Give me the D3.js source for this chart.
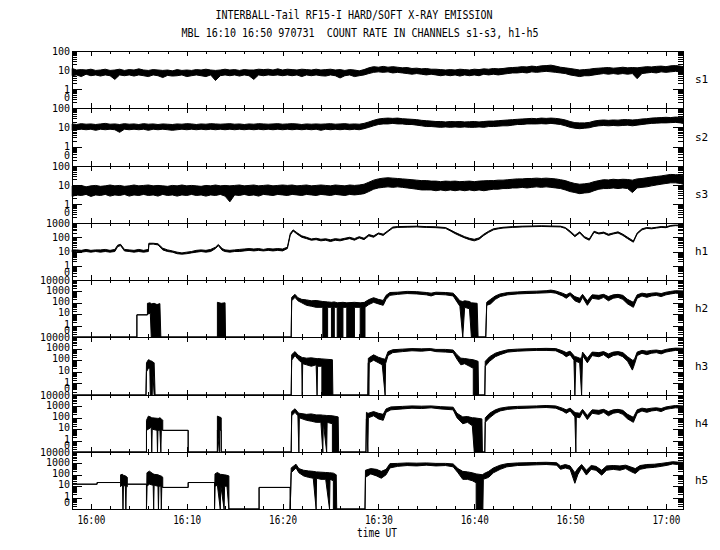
<!DOCTYPE html>
<meta charset="utf-8">
<style>
body { margin: 0; background: #fff; }
text { font-family: "DejaVu Sans Mono", monospace; fill: #000; }
.band { fill: #000; stroke: #000; stroke-width: 1px; }
.axis path, .axis line { stroke: #000; shape-rendering: crispEdges; }
</style>
<body>
<script src="https://d3js.org/d3.v7.min.js"></script>
<script>

// time in minutes after 16:00 UT; each row is [time, low, high] count rate
// (low == high for a plain line, low 0 = drop-out to the bottom)
var s1 = [[-1.95,5,12],[-1.5,5.5,10],[-1,4.5,10.5],[-0.5,6,10],[0,5,11],[0.5,5.5,9.5],[1,4.8,10],[1.5,5.5,11],[2,5,9.5],[2.5,3.2,10],[3,5.5,11],[3.5,5,9.5],[4,5.5,10.5],[4.5,4.8,10],[5,5.5,11.5],[5.5,5,10],[6,4.5,9.5],[6.5,5.5,10.5],[7,5,10],[7.5,4,9.5],[8,5.2,10],[8.5,4.8,9],[9,5,10.5],[9.5,5.5,9.5],[10,4.5,10],[10.5,5,9.5],[11,5.5,10.5],[11.5,5,10],[12,4.5,11],[12.5,5.5,10],[13,2.8,9.5],[13.5,5,10],[14,5.5,11],[14.5,5,10],[15,5.5,10.5],[15.5,4.8,9.5],[16,5.5,10.5],[16.5,5,10],[17,3.2,10],[17.5,5.5,11],[18,5,10.5],[18.5,5.5,11],[19,5.2,10],[19.5,5.5,11.5],[20,5,10],[20.5,5.5,11],[21,5,10.5],[21.5,5.5,10],[22,4.5,11],[22.5,5.5,10.5],[23,5,10],[23.5,5.5,11],[24,5,10],[24.5,4.8,10.5],[25,5.5,11],[25.5,5,10],[26,3.8,10.5],[26.5,5,9.5],[27,5.5,10.5],[27.5,4.5,10],[28,5,9],[28.5,5.5,10.5],[29,6.5,13],[29.5,7.5,15],[30,8,14],[30.5,7.5,15.5],[31,8,14],[31.5,7,15],[32,7.5,14],[32.5,7,13],[33,6.5,13.5],[33.5,6,12],[34,6.5,12.5],[34.5,6,11.5],[35,5.5,12],[35.5,6,11],[36,5.5,11],[36.5,5,10.5],[37,5.5,10],[37.5,5,10.5],[38,5.5,10],[38.5,4.8,11],[39,5.5,10.5],[39.5,5,10],[40,5.5,11],[40.5,5,10.5],[41,6,11.5],[41.5,5.5,11],[42,6,12],[42.5,5.5,11.5],[43,6,12],[43.5,6.5,13],[44,7,13.5],[44.5,7,14],[45,7.5,15],[45.5,7,14.5],[46,8,16],[46.5,7.5,15],[47,8,16.5],[47.5,8.5,17],[48,8,18],[48.5,7.5,16],[49,7,14],[49.5,6.5,13],[50,5.5,12],[50.5,5,11],[51,4.5,10],[51.5,5,10.5],[52,5,11],[52.5,5.5,12],[53,6,12.5],[53.5,6.5,13],[54,6,13.5],[54.5,6.5,12.5],[55,6,13],[55.5,6.5,14],[56,6,13],[56.5,6.5,13.5],[57,3.5,13],[57.5,6.5,14],[58,7,15],[58.5,7.5,14.5],[59,7,15.5],[59.5,8,16],[60,7.5,15],[60.5,8,16.5],[61,8.5,17],[61.5,8,16],[61.8,7,15]];

var s2 = [[-1.95,7,15],[-1.5,7.5,14],[-1,8,15.5],[-0.5,7.5,14.5],[0,8,15],[0.5,7,14],[1,8,15],[1.5,7.5,16],[2,8,14.5],[2.5,7.5,15],[3,5.5,14],[3.5,8,15.5],[4,7.5,14.5],[4.5,8,15],[5,7.5,14],[5.5,8,15.5],[6,7,14.5],[6.5,8,15],[7,7.5,14],[7.5,8,15],[8,7.5,14.5],[8.5,7,14],[9,7.5,15],[9.5,8,14.5],[10,7.5,15.5],[10.5,8,15],[11,7.5,14],[11.5,8,15],[12,7.5,14.5],[12.5,8,15.5],[13,7.5,15],[13.5,8,14.5],[14,7.5,15],[14.5,8,15.5],[15,7.5,14.5],[15.5,8,15],[16,7.5,14],[16.5,8,15],[17,7.5,14.5],[17.5,8,15.5],[18,7.5,15],[18.5,8,14.5],[19,7.5,15],[19.5,8,15.5],[20,7.5,14.5],[20.5,8,15],[21,7.5,15.5],[21.5,8,15],[22,7.5,14],[22.5,8,15],[23,7.5,14.5],[23.5,8,15],[24,7,14.5],[24.5,8,15],[25,7.5,15.5],[25.5,8,14.5],[26,7.5,15],[26.5,8,15.5],[27,7.5,14.5],[27.5,8,15],[28,7.5,14.5],[28.5,8.5,16],[29,10,19],[29.5,12,23],[30,14,27],[30.5,15,29],[31,15,30],[31.5,16,29],[32,15,30],[32.5,15,28],[33,14,27],[33.5,14,26],[34,13,25],[34.5,12,23],[35,11,22],[35.5,11,21],[36,10.5,20],[36.5,10,20],[37,10.5,19],[37.5,10,20],[38,10.5,19.5],[38.5,10,20],[39,10.5,19],[39.5,10,19.5],[40,10,20],[40.5,10.5,19],[41,10,20],[41.5,11,21],[42,11,21],[42.5,11.5,22],[43,12,23],[43.5,12,24],[44,13,25],[44.5,14,26],[45,14,27],[45.5,15,28],[46,15,29],[46.5,15,28],[47,15.5,30],[47.5,15,29],[48,16,30],[48.5,15,29],[49,14,27],[49.5,12,24],[50,10,20],[50.5,9,17.5],[51,8.5,17],[51.5,9,17],[52,9.5,18],[52.5,11,21],[53,12,23],[53.5,12.5,24],[54,12,23],[54.5,12.5,24],[55,12,23.5],[55.5,12.5,25],[56,13,25],[56.5,12,24],[57,13,25],[57.5,14,27],[58,15,28],[58.5,16,30],[59,16.5,31],[59.5,17,32],[60,17,33],[60.5,17.5,32],[61,18,34],[61.5,17,33],[61.8,16,31]];

var s3 = [[-1.95,2.5,9],[-1.5,3,8.5],[-1,2.8,9.5],[-0.5,3.2,8],[0,2.5,9],[0.5,3,9.5],[1,2.8,8.5],[1.5,3.2,9],[2,2.6,10],[2.5,3,9],[3,2.8,9.5],[3.5,3.2,8.5],[4,2.6,9],[4.5,3,10],[5,2.8,9],[5.5,3.2,9.5],[6,2.8,10],[6.5,3,9],[7,2.6,9.5],[7.5,3.2,9],[8,2.8,8.5],[8.5,3,9.5],[9,2.6,9],[9.5,3,10],[10,2.8,9],[10.5,3.2,9.5],[11,2.8,9],[11.5,3,8.5],[12,2.6,9.5],[12.5,3,9],[13,2.8,10],[13.5,3.2,9],[14,2.6,9.5],[14.5,1.3,9],[15,3,9.5],[15.5,2.8,10],[16,3.2,9],[16.5,2.8,9.5],[17,3,10],[17.5,2.6,9],[18,3.2,9.5],[18.5,3,10],[19,2.8,9],[19.5,3.2,9.5],[20,3,10],[20.5,2.8,9.5],[21,3.2,10],[21.5,3,9],[22,2.8,9.5],[22.5,3.2,10],[23,3,9],[23.5,2.8,9.5],[24,3.2,10],[24.5,3,9.5],[25,2.8,9],[25.5,3.2,10],[26,3,9.5],[26.5,2.8,9],[27,3.2,10],[27.5,3,9.5],[28,3.2,10],[28.5,3.5,11],[29,4.5,14],[29.5,6,18],[30,7,21],[30.5,7.5,23],[31,8,24],[31.5,7.5,23],[32,8,22],[32.5,7.5,21],[33,7,20],[33.5,6.5,19],[34,6,18],[34.5,5.5,17],[35,5.5,17],[35.5,5.5,16],[36,5,16],[36.5,5.5,15],[37,5,16],[37.5,5.5,15.5],[38,5,16],[38.5,5.5,15],[39,5,15.5],[39.5,5.5,16],[40,5,15],[40.5,5.5,16],[41,5,16.5],[41.5,5.5,17],[42,6,17],[42.5,6,18],[43,6.5,18],[43.5,6.5,19],[44,7,20],[44.5,7,21],[45,7.5,21],[45.5,7,22],[46,7.5,22],[46.5,8,23],[47,7.5,22],[47.5,8,23],[48,7.5,22],[48.5,7,21],[49,6.5,19],[49.5,5.5,17],[50,4.5,14],[50.5,4,12],[51,3.5,11],[51.5,3.8,11.5],[52,4,12.5],[52.5,5,15],[53,6,17],[53.5,6.5,19],[54,6.5,18.5],[54.5,7,20],[55,6.5,19],[55.5,7,20],[56,6.5,19.5],[56.5,4,18],[57,7,21],[57.5,7.5,22],[58,8,24],[58.5,9,26],[59,10,28],[59.5,11,30],[60,12,33],[60.5,13,36],[61,13,35],[61.5,12,34],[61.8,11,32]];

var h1 = [[-1.95,9,13],[-1.5,10,13],[-1,9,12],[-0.5,10,14],[0,9,12],[0.5,10,13],[1,9,13],[1.5,10,14],[2,9,12],[2.5,10,14],[2.8,22,28],[3.1,26,32],[3.5,11,14],[4,10,13],[4.5,9,12],[5,10,14],[5.5,9,12],[6,10,14],[6.05,32,38],[6.5,33,38],[7,29,35],[7.5,13,17],[8,10,13],[8.5,9,11],[9,7,9],[9.5,6.5,8],[10,7,9],[10.5,8,10],[11,9,12],[11.5,10,13],[12,9,12],[12.5,10,14],[13,16,20],[13.3,26,31],[13.7,12,16],[14,10,13],[14.5,9,12],[15,10,13],[15.5,10,14],[16,11,15],[16.5,12,16],[17,11,15],[17.5,12,16],[18,11,14],[18.5,12,16],[19,11,15],[19.5,12,16],[20,11,15],[20.5,16,20],[20.8,140,180],[21.1,280,330],[21.5,170,210],[22,100,125],[22.5,80,100],[23,62,76],[23.5,68,85],[24,56,72],[24.5,62,78],[25,50,66],[25.5,62,80],[26,56,72],[26.5,68,85],[27,80,100],[27.5,62,80],[28,90,110],[28.5,68,85],[29,125,155],[29.5,100,125],[30,170,200],[30.5,135,165],[31,250,290],[31.5,440,520],[32,490,560],[33,510,580],[34,530,600],[35,490,560],[36,470,540],[37,420,480],[37.5,280,330],[38,180,220],[38.5,125,155],[39,90,110],[39.5,68,85],[40,56,72],[40.5,72,90],[41,135,165],[41.5,220,265],[42,330,390],[42.5,390,450],[43,440,500],[44,490,560],[45,530,600],[46,550,620],[47,570,640],[48,550,620],[49,530,600],[49.5,420,480],[50,220,270],[50.5,110,135],[51,200,240],[51.5,90,110],[52,62,76],[52.5,220,265],[53,170,200],[53.5,190,230],[54,135,165],[54.5,170,200],[55,200,240],[55.5,135,165],[56,80,100],[56.6,45,55],[57,170,200],[57.5,330,390],[58,420,480],[58.5,390,450],[59,440,500],[59.5,490,560],[60,470,540],[60.5,600,670],[61,650,720],[61.5,630,700],[61.8,610,680]];

var h2 = [[-1.95,0,0],[4.8,0,0],[4.8,8.8,8.8],[5.9,8.8,8.8],[5.9,10,90],[6.2,12,100],[6.3,0,80],[6.6,0,90],[6.9,0,70],[7.2,0,85],[7.3,0,0],[13.2,0,0],[13.2,0,110],[13.6,0,90],[14,0,100],[14.05,0,0],[20.9,0,0],[20.95,150,300],[21.3,300,550],[21.6,150,280],[22,100,200],[22.5,60,180],[23,50,150],[23.5,40,160],[24.2,40,130],[24.2,0,130],[24.7,0,120],[24.7,40,120],[25.1,40,110],[25.1,0,110],[25.4,0,120],[25.4,40,120],[25.7,40,100],[25.7,0,100],[26.3,0,110],[26.3,40,110],[26.7,40,100],[26.7,0,100],[27.5,0,110],[27.5,40,110],[28.1,40,100],[28.1,0,100],[28.6,0,110],[28.6,40,120],[29,70,190],[29.5,110,280],[30,80,200],[30.5,60,160],[30.8,200,450],[31.2,450,800],[32,550,850],[33,650,1000],[34,600,950],[35,500,800],[35.5,400,700],[36,550,850],[37,500,800],[37.8,400,700],[38.2,120,300],[38.5,50,150],[38.8,0,130],[39,40,150],[39.5,30,130],[39.7,0,100],[40.3,0,90],[40.4,0,0],[41.2,0,0],[41.3,60,110],[41.7,80,200],[42.2,200,400],[42.7,350,600],[43.5,500,800],[44.5,600,900],[45.5,650,1000],[46.5,700,1050],[47.5,750,1150],[48,800,1300],[48.5,700,1100],[49.2,400,700],[49.6,250,500],[50,450,750],[50.5,150,350],[51,100,250],[51.3,300,550],[51.8,60,150],[52.3,250,500],[53,200,450],[53.5,300,550],[54,150,350],[54.5,250,500],[55,300,550],[55.5,200,450],[56,80,200],[56.6,40,110],[57,250,500],[57.5,400,700],[58,300,600],[58.5,400,700],[59,450,750],[59.5,350,650],[60,500,850],[60.5,600,1000],[61,700,1150],[61.8,650,1100]];

var h3 = [[-1.95,0,0],[5.75,0,0],[5.8,10,60],[6.0,20,110],[6.15,20,100],[6.2,0,90],[6.4,0,80],[6.45,15,70],[6.6,0,60],[6.7,0,0],[20.9,0,0],[20.95,100,300],[21.3,250,550],[21.6,120,280],[22,60,180],[22.05,0,170],[22.1,50,170],[22.5,40,150],[23,30,160],[23.5,40,140],[23.6,0,140],[23.65,30,140],[24.1,30,130],[24.1,0,130],[25.2,0,110],[25.25,0,0],[28.9,0,0],[28.95,60,150],[29,0,150],[29.05,60,170],[29.5,100,290],[30,60,180],[30.4,40,140],[30.7,0,120],[30.75,50,150],[31,250,550],[31.5,450,800],[32.5,550,900],[33.5,650,1000],[34.5,600,950],[35.4,700,1000],[36,550,850],[37,500,850],[37.8,450,750],[38.2,120,300],[38.6,40,150],[39,50,140],[39.5,30,120],[39.9,20,110],[39.9,0,110],[40.4,0,80],[40.45,0,0],[41.1,0,0],[41.15,30,80],[41.6,80,200],[42.2,200,400],[42.7,300,550],[43.5,500,800],[44.5,600,900],[45.5,650,950],[46.5,700,1000],[47.5,700,1050],[48.5,650,1000],[49.2,350,650],[49.6,200,450],[50,300,600],[50.4,100,250],[50.5,0,200],[50.6,80,200],[51,60,150],[51.2,0,150],[51.3,250,500],[51.8,60,150],[52.3,250,500],[53,200,450],[53.5,300,550],[54,150,350],[54.5,250,500],[55,300,550],[55.5,200,450],[56,80,200],[56.5,14,100],[56.7,40,110],[57,250,500],[57.5,400,700],[58,300,600],[58.5,400,700],[59,450,750],[59.5,350,650],[60,500,850],[60.5,600,1000],[61,700,1100],[61.8,650,1050]];

var h4 = [[-1.95,0,0],[5.8,0,0],[5.8,8,60],[6.0,10,140],[6.3,15,110],[6.35,0,100],[6.4,10,100],[6.9,8,90],[6.95,0,90],[7.0,8,85],[7.2,8,100],[7.3,0,90],[7.35,8,80],[7.5,8,60],[7.5,7.9,7.9],[10.15,7.9,7.9],[10.15,0,0],[13.2,0,0],[13.2,8,140],[13.4,0,120],[13.45,8,120],[13.6,8,100],[13.6,0,0],[20.9,0,0],[20.95,150,350],[21.3,300,620],[21.6,150,300],[21.7,0,250],[21.75,100,250],[22.5,60,200],[23,50,220],[23.5,40,180],[24,40,180],[24.2,0,170],[24.25,40,170],[24.6,0,160],[24.65,40,160],[25.2,30,150],[25.2,0,150],[25.8,0,120],[25.85,0,0],[28.7,0,0],[28.75,80,300],[28.9,0,250],[28.95,100,250],[29.5,150,350],[30,80,250],[30.5,60,200],[30.8,300,600],[31.3,500,900],[32.5,600,1000],[33.5,700,1100],[34.5,650,1050],[35.5,750,1100],[36.5,600,950],[37.8,500,850],[38.2,100,250],[38.8,30,120],[39.3,40,130],[39.8,20,100],[40,0,100],[40.8,0,80],[40.85,0,0],[41.1,0,0],[41.15,40,100],[41.6,100,250],[42.2,250,500],[42.7,400,700],[43.5,550,900],[44.5,650,1000],[45.5,700,1050],[46.5,750,1100],[47.5,800,1200],[48.5,700,1100],[49.2,400,700],[49.6,250,500],[50,400,700],[50.5,120,300],[50.6,0,280],[50.65,120,280],[51,100,250],[51.3,300,550],[51.8,70,160],[52.3,250,500],[53,200,450],[53.5,300,550],[54,150,350],[54.5,250,500],[55,300,550],[55.5,200,450],[56,80,200],[56.6,40,110],[57,250,500],[57.5,400,700],[58,300,600],[58.5,400,700],[59,450,750],[59.5,350,650],[60,550,900],[60.5,650,1050],[61,750,1200],[61.8,700,1100]];

var h5 = [[-1.95,15,15],[0.65,15,15],[0.65,21,21],[3.1,21,21],[3.1,9,100],[3.3,15,110],[3.35,0,100],[3.4,12,90],[3.6,10,80],[3.65,0,80],[3.7,10,70],[3.8,9,60],[3.8,15,15],[5.8,15,15],[5.8,0,0],[5.85,10,150],[6.1,15,210],[6.5,12,120],[6.55,0,120],[6.6,12,110],[7.0,10,100],[7.05,0,100],[7.1,10,90],[7.3,10,80],[7.35,0,80],[7.4,9,70],[7.5,8,60],[7.5,7.8,7.8],[10.15,7.8,7.8],[10.15,21,21],[12.9,21,21],[12.9,0,0],[12.95,10,120],[13.2,12,160],[13.5,0,110],[13.55,12,110],[13.9,0,100],[13.95,10,100],[14.2,10,90],[14.4,0,80],[14.4,0,0],[17.55,0,0],[17.55,7.8,7.8],[20.8,7.8,7.8],[20.8,0,0],[20.9,150,400],[21.4,400,850],[21.7,150,350],[22.2,80,250],[22.7,60,220],[23.2,50,200],[23.5,0,180],[23.55,50,180],[24,40,170],[24.5,40,160],[24.9,0,150],[24.95,40,150],[25.3,30,140],[25.3,0,140],[25.6,0,100],[25.65,0,0],[28.6,0,0],[28.65,60,250],[29.2,120,350],[29.8,80,300],[30.3,50,200],[30.8,100,300],[31.2,400,950],[32,550,1000],[33,650,1100],[34,600,1050],[35,700,1100],[36,600,1000],[37,650,1000],[37.8,500,900],[38.3,150,350],[38.8,40,200],[39.3,40,180],[39.8,30,150],[40.2,20,120],[40.2,0,120],[40.9,0,100],[40.95,40,120],[41.5,60,200],[42,150,400],[42.7,300,700],[43.4,500,950],[44.5,650,1100],[45.5,700,1150],[46.5,750,1200],[47.5,800,1250],[48.6,700,1150],[49,300,600],[49.5,400,800],[50,300,600],[50.5,18,150],[50.8,100,350],[51.2,400,800],[51.7,95,250],[52.2,300,650],[52.7,250,550],[53.3,93,250],[53.8,250,600],[54.5,300,650],[55.2,250,600],[55.8,350,700],[56.3,200,500],[56.8,130,350],[57.3,300,650],[58,400,800],[58.8,450,850],[59.5,550,1000],[60.2,700,1200],[60.7,900,1400],[61.2,800,1300],[61.8,750,1250]];

var channels = ["s1", "s2", "s3", "h1", "h2", "h3", "h4", "h5"];
var channelData = [s1, s2, s3, h1, h2, h3, h4, h5];
var topValues = [100, 100, 100, 1000, 10000, 10000, 10000, 10000];

var timeTicks = [0, 10, 20, 30, 40, 50, 60];
var timeLabels = ["16:00", "16:10", "16:20", "16:30", "16:40", "16:50", "17:00"];

var titleText = "INTERBALL-Tail RF15-I HARD/SOFT X-RAY EMISSION";
var subtitleText = "MBL 16:10 16:50 970731  COUNT RATE IN CHANNELS s1-s3, h1-h5";

// layout
var width = 720, height = 550;
var left = 72, right = 683, top0 = 51, panelH = 57.25;

var svg = d3.select("body").append("svg")
    .attr("width", width)
    .attr("height", height);

var x = d3.scaleLinear().domain([-1.97, 61.78]).range([left, right]);
var minorTime = d3.range(0, 62, 2).filter(function(t) { return t % 10 !== 0; });

// titles
svg.append("text")
    .attr("x", 354).attr("y", 19)
    .attr("text-anchor", "middle")
    .style("font-size", "12px")
    .attr("textLength", 277).attr("lengthAdjust", "spacingAndGlyphs")
    .text(titleText);
svg.append("text")
    .attr("x", 360).attr("y", 37)
    .attr("text-anchor", "middle")
    .style("font-size", "12px")
    .style("white-space", "pre")
    .attr("xml:space", "preserve")
    .attr("textLength", 357).attr("lengthAdjust", "spacingAndGlyphs")
    .text(subtitleText);

channels.forEach(function(name, i) {
  var pTop = Math.round(top0 + i * panelH);
  var pBot = Math.round(top0 + (i + 1) * panelH);
  var topV = topValues[i];

  var y = d3.scaleLog().domain([0.1, topV]).range([pBot, pTop]);
  var yv = function(v) { return y(Math.max(v, 0.1)); };

  // decade and minor ticks
  var decades = [], minors = [];
  for (var v = 0.1; v <= topV * 1.0001; v *= 10) {
    decades.push(+v.toPrecision(1));
    if (v < topV / 2) {
      for (var m = 2; m <= 9; m++) minors.push(+(v * m).toPrecision(2));
    }
  }

  var g = svg.append("g");

  // the data band
  var area = d3.area()
      .x(function(d) { return x(d[0]); })
      .y0(function(d) { return yv(d[1]); })
      .y1(function(d) { return yv(d[2]); });
  g.append("path")
      .datum(channelData[i])
      .attr("class", "band")
      .attr("d", area);

  // time axes on top and bottom of each panel, ticks pointing inward
  g.append("g").attr("class", "axis")
      .attr("transform", "translate(0," + pBot + ")")
      .call(d3.axisBottom(x).tickValues(timeTicks).tickSize(-5).tickSizeOuter(0)
        .tickFormat(function(d, k) { return i === 7 ? timeLabels[k] : ""; }));
  g.append("g").attr("class", "axis")
      .attr("transform", "translate(0," + pBot + ")")
      .call(d3.axisBottom(x).tickValues(minorTime).tickSize(-3).tickSizeOuter(0).tickFormat(""));
  g.append("g").attr("class", "axis")
      .attr("transform", "translate(0," + pTop + ")")
      .call(d3.axisTop(x).tickValues(timeTicks).tickSize(-5).tickSizeOuter(0).tickFormat(""));
  g.append("g").attr("class", "axis")
      .attr("transform", "translate(0," + pTop + ")")
      .call(d3.axisTop(x).tickValues(minorTime).tickSize(-3).tickSizeOuter(0).tickFormat(""));

  // count-rate axes, left and right
  var yl = g.append("g").attr("class", "axis")
      .attr("transform", "translate(" + left + ",0)")
      .call(d3.axisLeft(y).tickValues(decades).tickSize(-10).tickSizeOuter(0).tickPadding(2)
        .tickFormat(function(d) { return d === 0.1 ? "0" : String(d); }));
  yl.selectAll("text")
      .attr("font-family", null).attr("font-size", null)
      .style("font-size", "10px");
  // in the tall h panels the labels sit a little above their ticks
  if (topV >= 10000) {
    yl.selectAll(".tick").filter(function(d) { return d !== topV && d !== 0.1; }).select("text")
        .attr("y", -1.5);
  }
  yl.selectAll(".tick").filter(function(d) { return d === 0.1; }).select("text")
      .attr("y", y(Math.pow(10, -0.45)) - pBot);
  g.append("g").attr("class", "axis")
      .attr("transform", "translate(" + left + ",0)")
      .call(d3.axisLeft(y).tickValues(minors).tickSize(-5).tickSizeOuter(0).tickFormat(""));
  g.append("g").attr("class", "axis")
      .attr("transform", "translate(" + right + ",0)")
      .call(d3.axisRight(y).tickValues(decades).tickSize(-10).tickSizeOuter(0).tickFormat(""));
  g.append("g").attr("class", "axis")
      .attr("transform", "translate(" + right + ",0)")
      .call(d3.axisRight(y).tickValues(minors).tickSize(-5).tickSizeOuter(0).tickFormat(""));

  // channel name on the right
  g.append("text")
      .attr("x", 695).attr("y", (pTop + pBot) / 2)
      .attr("dy", "0.35em")
      .style("font-size", "11px")
      .text(name);

  if (i === 7) {
    g.selectAll(".tick text")
      .filter(function() { return this.textContent.indexOf(":") > 0; })
      .attr("font-family", null).attr("font-size", null)
      .style("font-size", "13px")
      .attr("dy", null)
      .attr("y", 15)
      .attr("textLength", 28).attr("lengthAdjust", "spacingAndGlyphs");
  }
});

// x axis title
svg.append("text")
    .attr("x", 377).attr("y", 537)
    .attr("text-anchor", "middle")
    .style("font-size", "12px")
    .attr("textLength", 40).attr("lengthAdjust", "spacingAndGlyphs")
    .text("time UT");

</script>
</body>
